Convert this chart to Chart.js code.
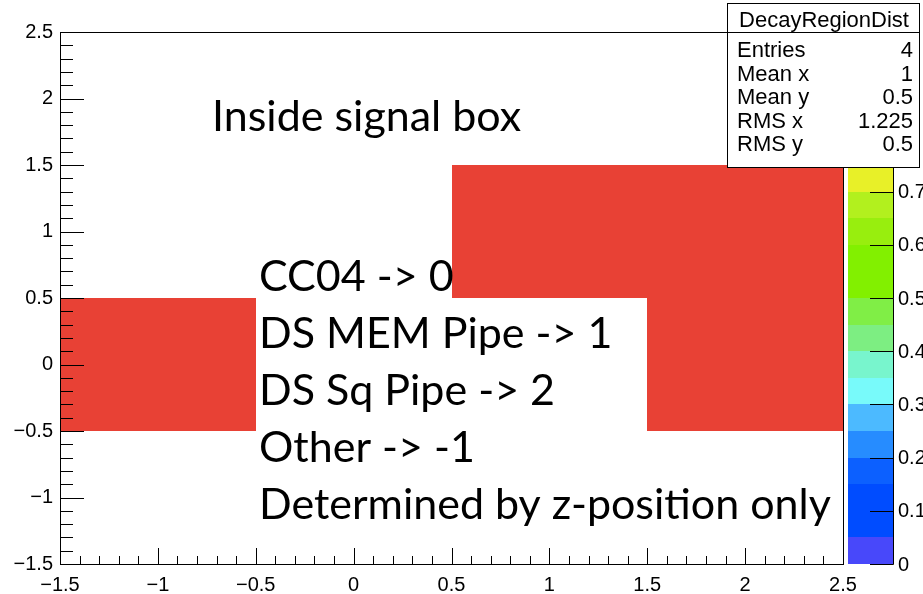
<!DOCTYPE html>
<html>
<head>
<meta charset="utf-8">
<script src="https://cdn.jsdelivr.net/npm/chart.js@4.4.1/dist/chart.umd.min.js"></script>
<style>
  html, body { margin: 0; padding: 0; background: #ffffff; overflow: hidden; }
  #wrap { width: 923px; height: 594px; position: relative; }
</style>
</head>
<body>
<div id="wrap"><canvas id="c" width="923" height="594"></canvas></div>
<script>
// ---- histogram definition -------------------------------------------------
const histName = 'DecayRegionDist';
const xBinEdges = [-1.5, -0.5, 0.5, 1.5, 2.5];
const yBinEdges = [-1.5, -0.5, 0.5, 1.5, 2.5];

// filled cells: bin centre in x, bin centre in y, bin content
const cellX = [-1, 2, 1, 2];
const cellY = [0, 0, 1, 1];
const cellZ = [1, 1, 1, 1];

// axis ticks
const xTickValues = [-1.5, -1, -0.5, 0, 0.5, 1, 1.5, 2, 2.5];
const yTickValues = [-1.5, -1, -0.5, 0, 0.5, 1, 1.5, 2, 2.5];
const zTickValues = [0, 0.1, 0.2, 0.3, 0.4, 0.5, 0.6, 0.7, 0.8, 0.9, 1];
const minorDivisions = 5;

// colour palette, one colour per contour level (bottom to top)
const paletteColors = [
  'rgb(72,72,250)',  'rgb(0,76,255)',   'rgb(0,76,255)',   'rgb(12,96,255)',
  'rgb(38,140,255)', 'rgb(76,186,255)', 'rgb(120,250,250)','rgb(120,245,205)',
  'rgb(125,238,130)','rgb(128,238,70)', 'rgb(130,240,0)',  'rgb(130,240,0)',
  'rgb(152,238,14)', 'rgb(178,240,30)', 'rgb(232,240,40)', 'rgb(240,212,40)',
  'rgb(244,172,40)', 'rgb(240,132,42)', 'rgb(236,96,46)',  'rgb(232,65,53)'
];

// annotation text
const noteTitle = 'Inside signal box';
const noteLines = [
  'CC04 -> 0',
  'DS MEM Pipe -> 1',
  'DS Sq Pipe -> 2',
  'Other -> -1',
  'Determined by z-position only'
];

// ---- helpers ----------------------------------------------------------------
const AXIS_FONT = '"Liberation Sans", Arial, Helvetica, sans-serif';
const NOTE_FONT = 'Lato, "Open Sans", sans-serif';
const Z_MAX = Math.max(...cellZ);

function fmt(v) {
  const s = String(Math.abs(v));
  return v < 0 ? '\u2212' + s : s;
}
function binBounds(edges, centre) {
  for (let i = 0; i < edges.length - 1; i++) {
    if (centre >= edges[i] && centre < edges[i + 1]) return [edges[i], edges[i + 1]];
  }
  return [edges[edges.length - 2], edges[edges.length - 1]];
}
function colorFor(v) {
  const n = paletteColors.length;
  const idx = Math.min(n - 1, Math.max(0, Math.floor(v / Z_MAX * n)));
  return paletteColors[idx];
}
function g4(v) { return String(Number(v.toPrecision(4))); }

// statistics of the filled cells
const sumW = cellZ.reduce((a, b) => a + b, 0);
const meanX = cellX.reduce((a, v, i) => a + v * cellZ[i], 0) / sumW;
const meanY = cellY.reduce((a, v, i) => a + v * cellZ[i], 0) / sumW;
const rmsX = Math.sqrt(cellX.reduce((a, v, i) => a + v * v * cellZ[i], 0) / sumW - meanX * meanX);
const rmsY = Math.sqrt(cellY.reduce((a, v, i) => a + v * v * cellZ[i], 0) / sumW - meanY * meanY);
const statRows = [
  ['Entries', g4(sumW)],
  ['Mean x', g4(meanX)],
  ['Mean y', g4(meanY)],
  ['RMS x', g4(rmsX)],
  ['RMS y', g4(rmsY)]
];

// ---- drawing plugin: cells, frame, ticks, palette, stats, notes ------------
const rootPad = {
  id: 'rootPad',
  beforeDatasetsDraw(chart) {
    const { ctx, scales: { x, y } } = chart;
    ctx.save();
    cellX.forEach((cx, i) => {
      const [x0, x1] = binBounds(xBinEdges, cx);
      const [y0, y1] = binBounds(yBinEdges, cellY[i]);
      const px0 = Math.round(x.getPixelForValue(x0));
      const px1 = Math.round(x.getPixelForValue(x1));
      const py0 = Math.round(y.getPixelForValue(y0));
      const py1 = Math.round(y.getPixelForValue(y1));
      ctx.fillStyle = colorFor(cellZ[i]);
      ctx.fillRect(Math.min(px0, px1), Math.min(py0, py1), Math.abs(px1 - px0), Math.abs(py1 - py0));
    });
    ctx.restore();
  },
  afterDraw(chart) {
    const { ctx, chartArea: a, scales: { x, y, z } } = chart;
    const L = Math.round(a.left), R = Math.round(a.right);
    const T = Math.round(a.top), B = Math.round(a.bottom);
    ctx.save();
    ctx.strokeStyle = '#000';
    ctx.lineWidth = 1;

    // frame
    ctx.strokeRect(L + 0.5, T + 0.5, R - L, B - T);

    // x-axis ticks (pointing into the frame)
    ctx.beginPath();
    for (let i = 0; i < xTickValues.length; i++) {
      const px = Math.round(x.getPixelForValue(xTickValues[i])) + 0.5;
      ctx.moveTo(px, B + 0.5); ctx.lineTo(px, B - 16);
      if (i < xTickValues.length - 1) {
        const step = (xTickValues[i + 1] - xTickValues[i]) / minorDivisions;
        for (let k = 1; k < minorDivisions; k++) {
          const mx = Math.round(x.getPixelForValue(xTickValues[i] + k * step)) + 0.5;
          ctx.moveTo(mx, B + 0.5); ctx.lineTo(mx, B - 8);
        }
      }
    }
    // y-axis ticks
    for (let i = 0; i < yTickValues.length; i++) {
      const py = Math.round(y.getPixelForValue(yTickValues[i])) + 0.5;
      ctx.moveTo(L + 0.5, py); ctx.lineTo(L + 24, py);
      if (i < yTickValues.length - 1) {
        const step = (yTickValues[i + 1] - yTickValues[i]) / minorDivisions;
        for (let k = 1; k < minorDivisions; k++) {
          const my = Math.round(y.getPixelForValue(yTickValues[i] + k * step)) + 0.5;
          ctx.moveTo(L + 0.5, my); ctx.lineTo(L + 13, my);
        }
      }
    }
    ctx.stroke();

    // colour palette
    const palL = R + 5, palR = R + 50;
    const n = paletteColors.length;
    for (let i = 0; i < n; i++) {
      const p0 = Math.round(z.getPixelForValue(i * Z_MAX / n));
      const p1 = Math.round(z.getPixelForValue((i + 1) * Z_MAX / n));
      ctx.fillStyle = paletteColors[i];
      ctx.fillRect(palL, p1, palR - palL, p0 - p1);
    }
    const z0 = Math.round(z.getPixelForValue(0)), z1 = Math.round(z.getPixelForValue(Z_MAX));
    ctx.beginPath();
    ctx.moveTo(palR + 0.5, z0 + 0.5); ctx.lineTo(palR + 0.5, z1);
    zTickValues.forEach(v => {
      const py = Math.round(z.getPixelForValue(v)) + 0.5;
      ctx.moveTo(palR + 0.5, py); ctx.lineTo(palR - 23, py);
    });
    ctx.stroke();
    ctx.fillStyle = '#000';
    ctx.font = '20px ' + AXIS_FONT;
    ctx.textAlign = 'left';
    ctx.textBaseline = 'middle';
    zTickValues.forEach(v => {
      ctx.fillText(fmt(v), palR + 5, z.getPixelForValue(v) + 1);
    });

    // statistics box
    const sx = 727, sy = 3, sw = 192, sh = 164, titleH = 29;
    ctx.fillStyle = '#fff';
    ctx.fillRect(sx, sy, chart.width - sx, sh + 1);
    ctx.strokeRect(sx + 0.5, sy + 0.5, sw, sh);
    ctx.beginPath();
    ctx.moveTo(sx, sy + titleH + 0.5); ctx.lineTo(sx + sw, sy + titleH + 0.5);
    ctx.stroke();
    ctx.fillStyle = '#000';
    ctx.font = '22px ' + AXIS_FONT;
    ctx.textBaseline = 'alphabetic';
    ctx.textAlign = 'center';
    ctx.fillText(histName, sx + sw / 2 + 1, sy + 24);
    statRows.forEach((row, i) => {
      const by = sy + 54 + i * 23.5;
      ctx.textAlign = 'left';
      ctx.fillText(row[0], sx + 10, by);
      ctx.textAlign = 'right';
      ctx.fillText(row[1], sx + sw - 6, by);
    });

    // annotation text
    ctx.fillStyle = '#000';
    ctx.textAlign = 'left';
    ctx.textBaseline = 'alphabetic';
    ctx.font = '43px ' + NOTE_FONT;
    ctx.fillText(noteTitle, 212, 131);
    noteLines.forEach((t, i) => ctx.fillText(t, 259, 291 + i * 57));

    ctx.restore();
  }
};

// ---- chart ------------------------------------------------------------------
new Chart(document.getElementById('c'), {
  type: 'scatter',
  data: {
    datasets: [{
      label: histName,
      data: cellX.map((v, i) => ({ x: v, y: cellY[i], z: cellZ[i] })),
      pointRadius: 0,
      pointHoverRadius: 0,
      showLine: false
    }]
  },
  options: {
    responsive: false,
    animation: false,
    devicePixelRatio: 1,
    events: [],
    layout: { padding: { top: 32, right: 80, left: 0, bottom: 0 } },
    plugins: { legend: { display: false }, tooltip: { enabled: false } },
    scales: {
      x: {
        type: 'linear',
        min: xBinEdges[0],
        max: xBinEdges[xBinEdges.length - 1],
        grid: { display: false, drawTicks: false },
        border: { display: false },
        afterBuildTicks: s => { s.ticks = xTickValues.map(v => ({ value: v })); },
        afterFit: s => { s.height = 30; },
        ticks: {
          autoSkip: false, maxRotation: 0, padding: 9, color: '#000',
          font: { family: AXIS_FONT, size: 20 },
          callback: v => fmt(v)
        }
      },
      y: {
        type: 'linear',
        min: yBinEdges[0],
        max: yBinEdges[yBinEdges.length - 1],
        grid: { display: false, drawTicks: false },
        border: { display: false },
        afterBuildTicks: s => { s.ticks = yTickValues.map(v => ({ value: v })); },
        afterFit: s => { s.width = 60; },
        ticks: {
          autoSkip: false, padding: 7, color: '#000',
          font: { family: AXIS_FONT, size: 20 },
          callback: v => fmt(v)
        }
      },
      z: {
        type: 'linear',
        display: false,
        position: 'right',
        min: 0,
        max: Z_MAX
      }
    }
  },
  plugins: [rootPad]
});
</script>
</body>
</html>
